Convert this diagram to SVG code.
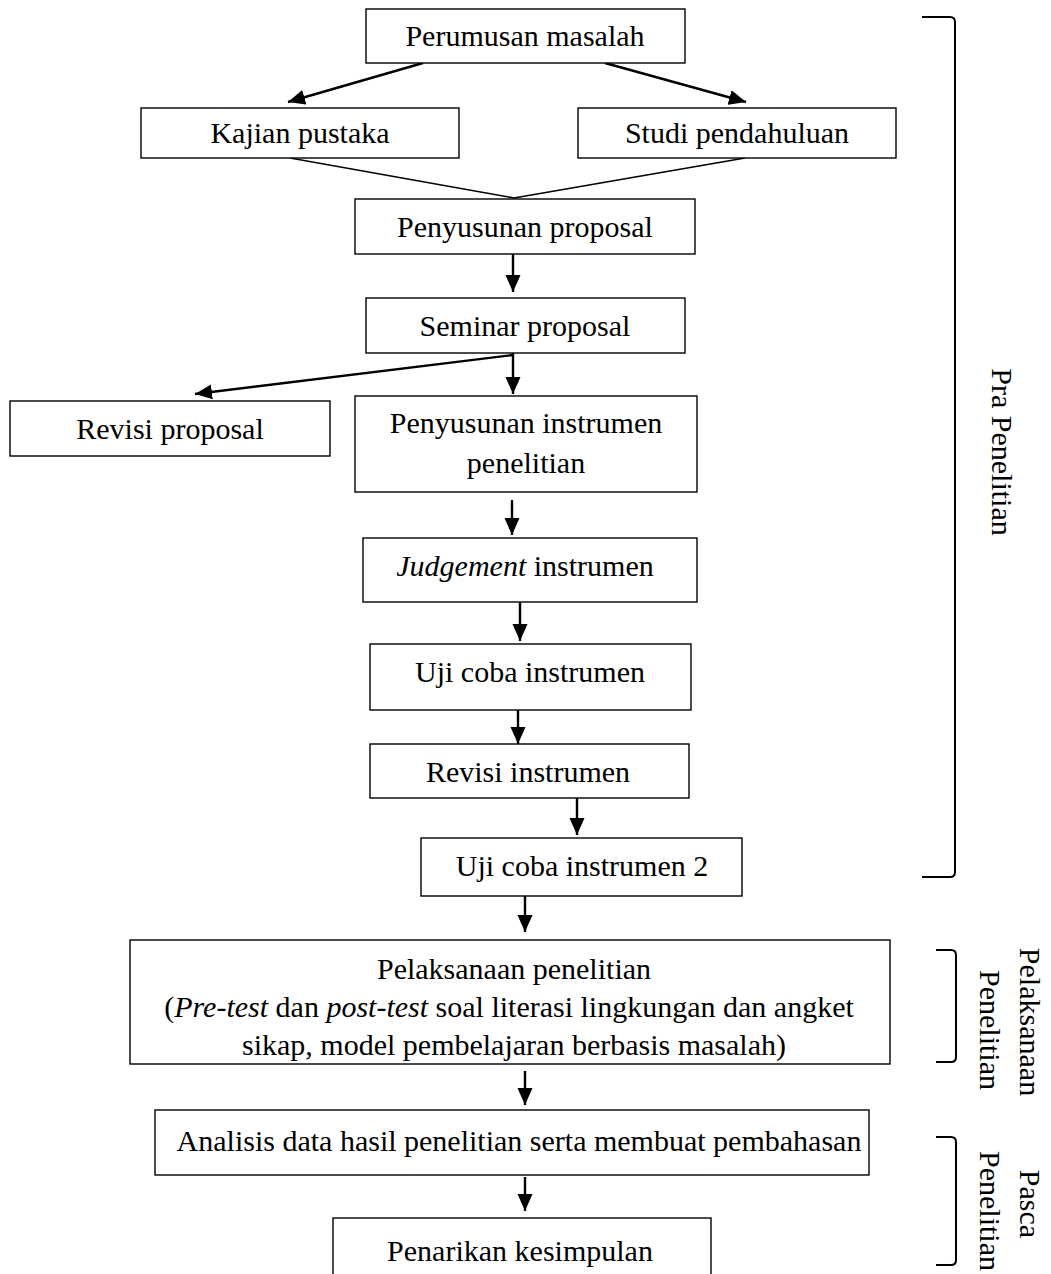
<svg xmlns="http://www.w3.org/2000/svg" width="1051" height="1274" viewBox="0 0 1051 1274">
<style>
.box{fill:#fff;stroke:#000;stroke-width:1.4}
.t{font-family:"Liberation Serif","Times New Roman",serif;font-size:30px;fill:#000;text-anchor:middle}
.c{stroke:#000;stroke-width:2.4;fill:none}
.cl{stroke:#000;stroke-width:1.6;fill:none}
.br{stroke:#000;stroke-width:2;fill:none}
</style>
<defs>
<marker id="ah" markerUnits="userSpaceOnUse" markerWidth="18" markerHeight="16" viewBox="0 0 18 16" refX="17" refY="8" orient="auto">
<path d="M0,0.5 L17,8 L0,15.5 Z" fill="#000"/>
</marker>
</defs>
<rect width="1051" height="1274" fill="#fff"/>
<g id="connectors">
<line class="c" x1="423" y1="63" x2="288" y2="102" marker-end="url(#ah)"/>
<line class="c" x1="605" y1="63" x2="746" y2="102" marker-end="url(#ah)"/>
<line class="cl" x1="290" y1="158" x2="514" y2="198"/>
<line class="cl" x1="745" y1="158" x2="514" y2="198"/>
<line class="c" x1="513" y1="254" x2="513" y2="292" marker-end="url(#ah)"/>
<line class="c" x1="513" y1="355" x2="195" y2="394" marker-end="url(#ah)"/>
<line class="c" x1="513" y1="353" x2="513" y2="394" marker-end="url(#ah)"/>
<line class="c" x1="512" y1="500" x2="512" y2="535" marker-end="url(#ah)"/>
<line class="c" x1="520" y1="602" x2="520" y2="641" marker-end="url(#ah)"/>
<line class="c" x1="518" y1="710" x2="518" y2="744" marker-end="url(#ah)"/>
<line class="c" x1="577" y1="794" x2="577" y2="835" marker-end="url(#ah)"/>
<line class="c" x1="525" y1="896" x2="525" y2="932" marker-end="url(#ah)"/>
<line class="c" x1="525" y1="1071" x2="525" y2="1105" marker-end="url(#ah)"/>
<line class="c" x1="525" y1="1177" x2="525" y2="1211" marker-end="url(#ah)"/>
</g>
<g id="n1"><rect class="box" x="366" y="9" width="319" height="54"/><text class="t" x="525" y="46">Perumusan masalah</text></g>
<g id="n2"><rect class="box" x="141" y="108" width="318" height="50"/><text class="t" x="300" y="143">Kajian pustaka</text></g>
<g id="n3"><rect class="box" x="578" y="108" width="318" height="50"/><text class="t" x="737" y="143">Studi pendahuluan</text></g>
<g id="n4"><rect class="box" x="355" y="199" width="340" height="55"/><text class="t" x="525" y="237">Penyusunan proposal</text></g>
<g id="n5"><rect class="box" x="366" y="298" width="319" height="55"/><text class="t" x="525" y="336">Seminar proposal</text></g>
<g id="n6"><rect class="box" x="10" y="401" width="320" height="55"/><text class="t" x="170" y="439">Revisi proposal</text></g>
<g id="n7"><rect class="box" x="355" y="396" width="342" height="96"/><text class="t" x="526" y="433">Penyusunan instrumen</text><text class="t" x="526" y="473">penelitian</text></g>
<g id="n8"><rect class="box" x="363" y="538" width="334" height="64"/><text class="t" x="525" y="576"><tspan font-style="italic">Judgement</tspan> instrumen</text></g>
<g id="n9"><rect class="box" x="370" y="644" width="321" height="66"/><text class="t" x="530" y="682">Uji coba instrumen</text></g>
<g id="n10"><rect class="box" x="370" y="744" width="319" height="54"/><text class="t" x="528" y="782">Revisi instrumen</text></g>
<g id="n11"><rect class="box" x="421" y="838" width="321" height="58"/><text class="t" x="582" y="876">Uji coba instrumen 2</text></g>
<g id="n12"><rect class="box" x="130" y="940" width="760" height="124"/><text class="t" x="514" y="979">Pelaksanaan penelitian</text><text class="t" x="509" y="1017">(<tspan font-style="italic">Pre-test</tspan> dan <tspan font-style="italic">post-test</tspan> soal literasi lingkungan dan angket</text><text class="t" x="514" y="1055">sikap, model pembelajaran berbasis masalah)</text></g>
<g id="n13"><rect class="box" x="155" y="1110" width="714" height="65"/><text class="t" x="519" y="1151">Analisis data hasil penelitian serta membuat pembahasan</text></g>
<g id="n14"><rect class="box" x="333" y="1218" width="378" height="70"/><text class="t" x="520" y="1261">Penarikan kesimpulan</text></g>
<g id="brackets">
<path class="br" d="M922,17 L950,17 Q955,17 955,22 L955,872 Q955,877 950,877 L922,877"/>
<path class="br" d="M936,950 L951,950 Q956,950 956,955 L956,1057 Q956,1062 951,1062 L936,1062"/>
<path class="br" d="M936,1137 L951,1137 Q956,1137 956,1142 L956,1260 Q956,1265 951,1265 L936,1265"/>
</g>
<g id="labels">
<text class="t" transform="translate(992,452) rotate(90)" x="0" y="0">Pra Penelitian</text>
<text class="t" transform="translate(1020,1022) rotate(90)" x="0" y="0">Pelaksanaan</text>
<text class="t" transform="translate(980,1030) rotate(90)" x="0" y="0">Penelitian</text>
<text class="t" transform="translate(1020,1204) rotate(90)" x="0" y="0">Pasca</text>
<text class="t" transform="translate(980,1211) rotate(90)" x="0" y="0">Penelitian</text>
</g>
</svg>
